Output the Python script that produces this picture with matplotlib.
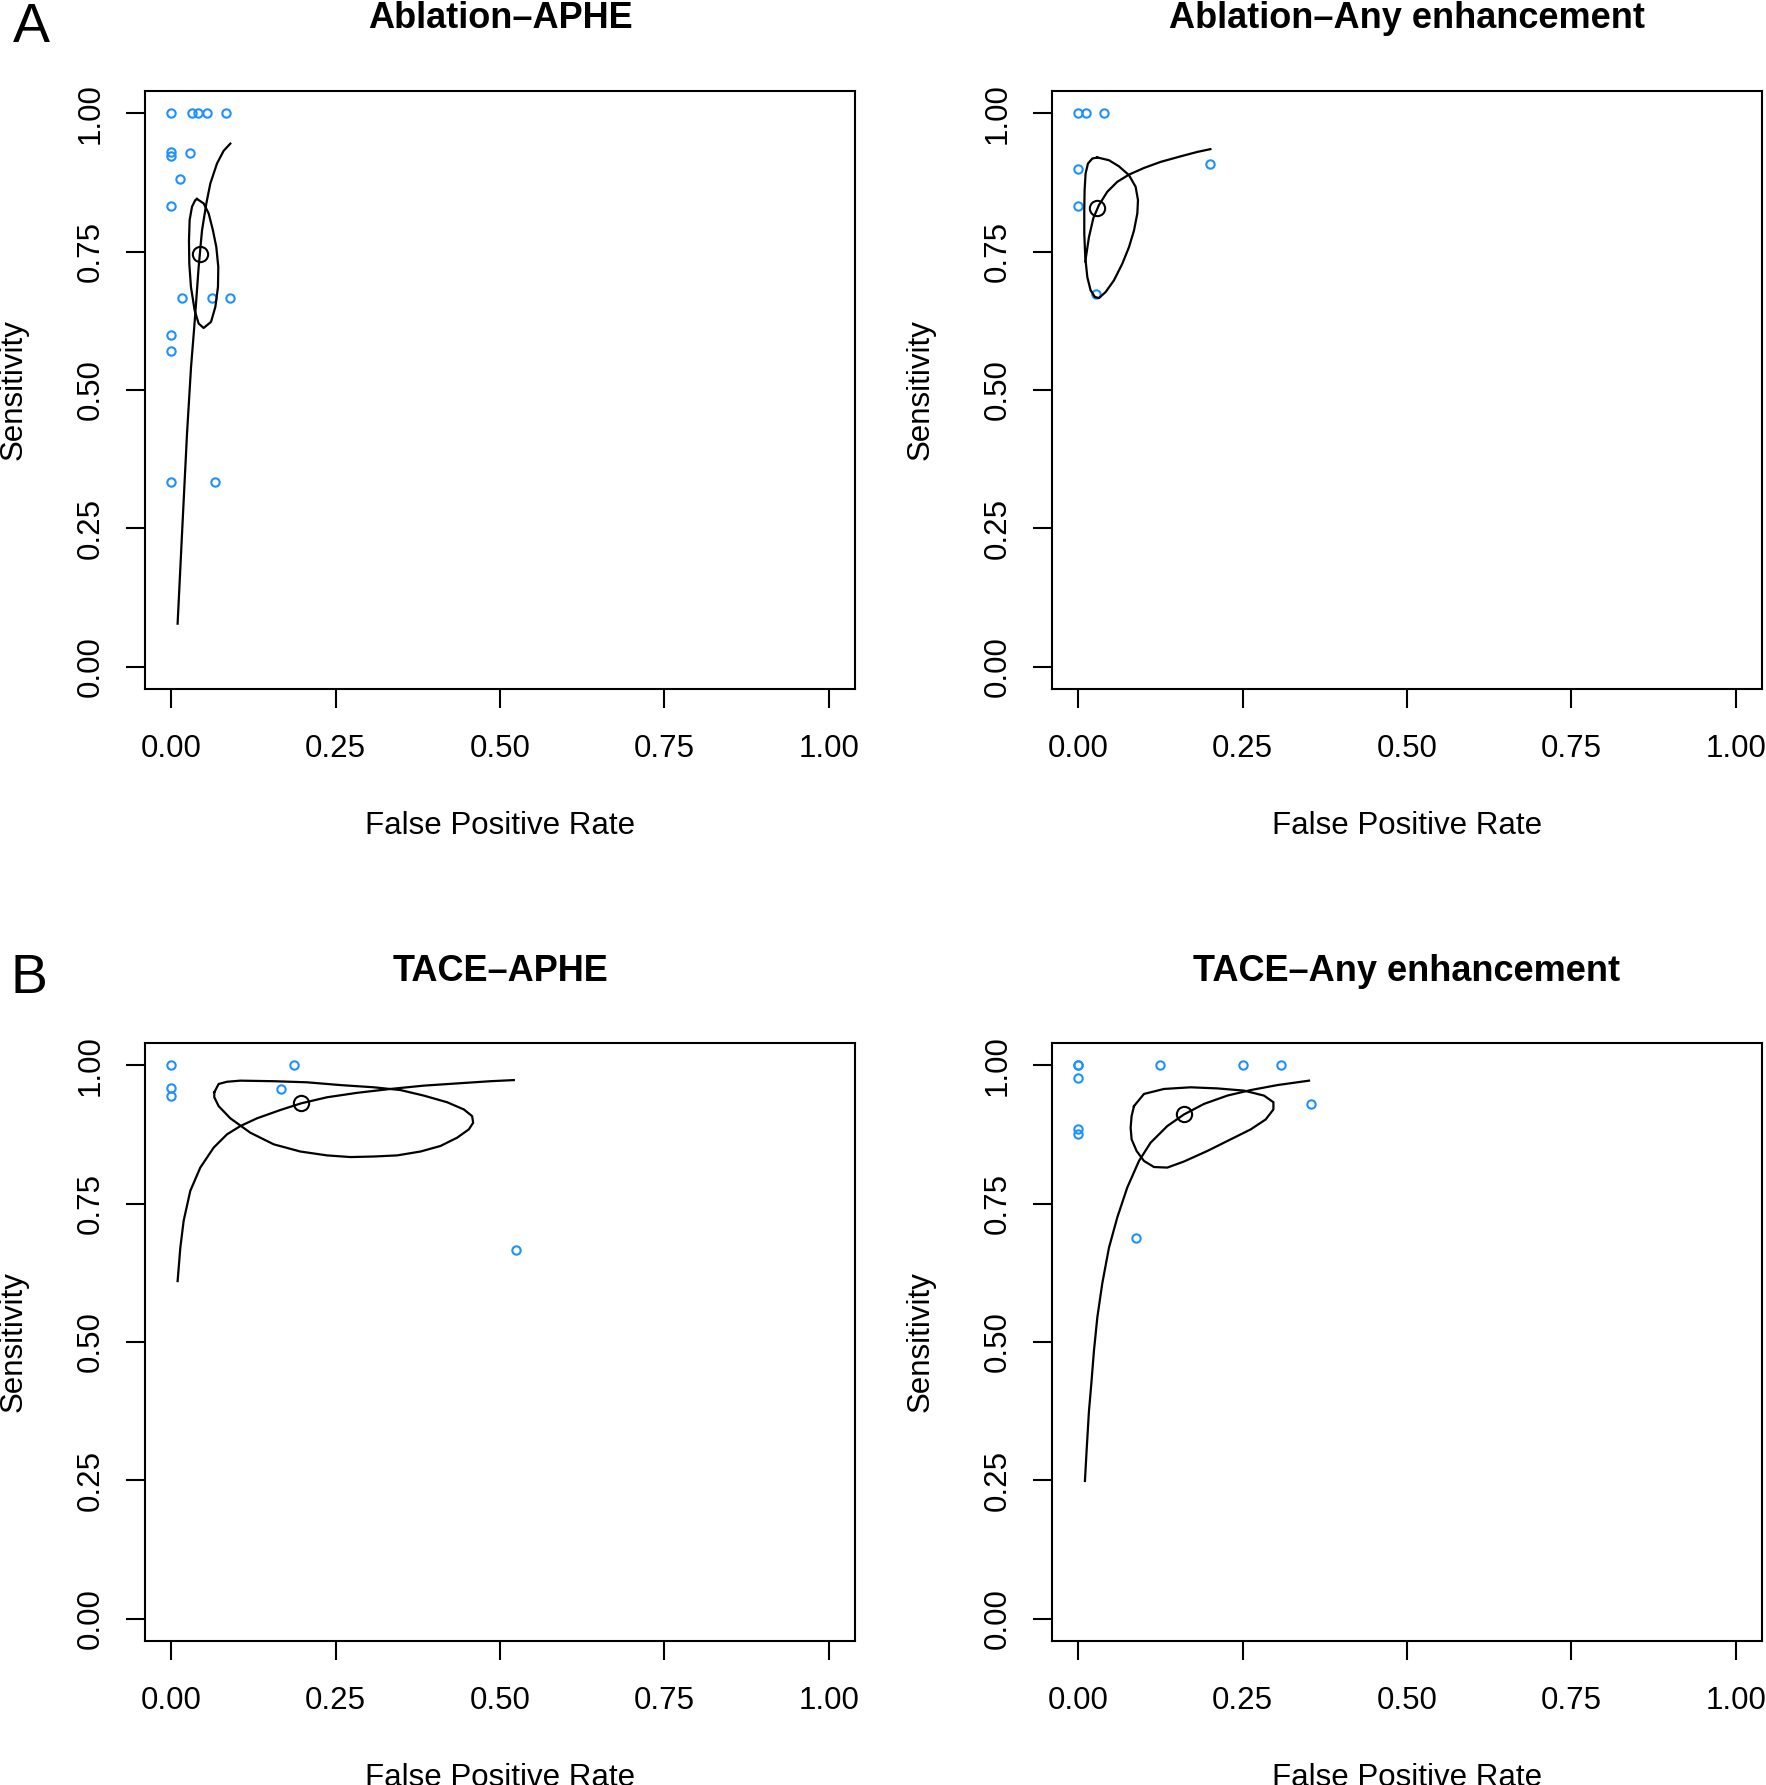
import matplotlib
matplotlib.use("Agg")
import matplotlib.pyplot as plt

plt.rcParams["font.family"] = ["Liberation Sans", "DejaVu Sans"]

# ── Données ───────────────────────────────────────────────────────────────────
TITLES = ["Ablation–APHE", "Ablation–Any enhancement",
          "TACE–APHE", "TACE–Any enhancement"]
TICKS = [0.00, 0.25, 0.50, 0.75, 1.00]
TICK_LABELS = ["0.00", "0.25", "0.50", "0.75", "1.00"]

# études (FPR, sensibilité)
abl_aphe_fpr = [0.0, 0.031, 0.041, 0.055, 0.083, 0.0, 0.0, 0.029, 0.013, 0.0,
                0.017, 0.062, 0.090, 0.0, 0.0, 0.0, 0.066]
abl_aphe_sens = [1.0, 1.0, 1.0, 1.0, 1.0, 0.923, 0.929, 0.928, 0.881, 0.833,
                 0.667, 0.667, 0.667, 0.600, 0.571, 0.333, 0.333]

abl_any_fpr = [0.0, 0.011, 0.039, 0.0, 0.0, 0.027, 0.201]
abl_any_sens = [1.0, 1.0, 1.0, 0.900, 0.833, 0.674, 0.909]

tace_aphe_fpr = [0.0, 0.0, 0.0, 0.187, 0.167, 0.524]
tace_aphe_sens = [1.0, 0.958, 0.944, 1.0, 0.957, 0.667]

tace_any_fpr = [0.0, 0.0, 0.0, 0.0, 0.0, 0.125, 0.251, 0.308, 0.354, 0.088]
tace_any_sens = [1.0, 1.0, 0.976, 0.884, 0.875, 1.0, 1.0, 1.0, 0.929, 0.688]

# point résumé (FPR, sensibilité)
summary_fpr = [0.044, 0.029, 0.197, 0.161]
summary_sens = [0.746, 0.828, 0.931, 0.911]

# courbes SROC (sommets lus)
sroc_abl_aphe_fpr = [0.0096, 0.0163, 0.0239, 0.030, 0.0340, 0.0365, 0.0416,
                     0.0467, 0.0533, 0.0594, 0.0695, 0.0796, 0.0898]
sroc_abl_aphe_sens = [0.078, 0.240, 0.421, 0.541, 0.600, 0.638, 0.722,
                      0.788, 0.837, 0.873, 0.909, 0.932, 0.945]

sroc_abl_any_fpr = [0.0106, 0.0162, 0.0228, 0.0314, 0.0441, 0.0593, 0.0771,
                    0.0999, 0.1253, 0.1557, 0.1811, 0.2009]
sroc_abl_any_sens = [0.732, 0.776, 0.810, 0.834, 0.858, 0.876, 0.889,
                     0.901, 0.912, 0.922, 0.930, 0.935]

sroc_tace_aphe_fpr = [0.0096, 0.0137, 0.0188, 0.0289, 0.0441, 0.0644, 0.0847,
                      0.1050, 0.1304, 0.1659, 0.1974, 0.2369, 0.2826, 0.3333,
                      0.3840, 0.4348, 0.4855, 0.5210]
sroc_tace_aphe_sens = [0.610, 0.670, 0.719, 0.773, 0.815, 0.851, 0.875,
                       0.890, 0.904, 0.919, 0.931, 0.942, 0.950, 0.957,
                       0.963, 0.967, 0.971, 0.973]

sroc_tace_any_fpr = [0.0101, 0.0126, 0.0162, 0.0197, 0.0238, 0.0289, 0.0365,
                     0.0466, 0.0593, 0.0745, 0.0923, 0.1100, 0.1354, 0.1608,
                     0.1912, 0.2267, 0.2623, 0.3028, 0.3510]
sroc_tace_any_sens = [0.249, 0.303, 0.375, 0.423, 0.484, 0.544, 0.606,
                      0.670, 0.725, 0.779, 0.827, 0.860, 0.890, 0.911,
                      0.930, 0.945, 0.955, 0.964, 0.972]

# régions de confiance (contours lus)
conf_abl_aphe_fpr = [0.0391, 0.0492, 0.0568, 0.0634, 0.0685, 0.0715, 0.0710,
                     0.0670, 0.0604, 0.0492, 0.0416, 0.0355, 0.0299, 0.0274,
                     0.0269, 0.0279, 0.0315, 0.0365, 0.0391]
conf_abl_aphe_sens = [0.845, 0.837, 0.819, 0.788, 0.758, 0.722, 0.686,
                      0.650, 0.623, 0.612, 0.620, 0.644, 0.686, 0.728,
                      0.770, 0.807, 0.831, 0.843, 0.845]

conf_abl_any_fpr = [0.0289, 0.0466, 0.0618, 0.0771, 0.0872, 0.0908, 0.0898,
                    0.0847, 0.0771, 0.0669, 0.0542, 0.0416, 0.0314, 0.0253,
                    0.0187, 0.0137, 0.0106, 0.0091, 0.0091, 0.0096, 0.0111,
                    0.0147, 0.0213, 0.0289]
conf_abl_any_sens = [0.920, 0.915, 0.904, 0.888, 0.867, 0.843, 0.819,
                     0.788, 0.758, 0.728, 0.698, 0.677, 0.666, 0.668,
                     0.680, 0.704, 0.740, 0.782, 0.825, 0.861, 0.891,
                     0.909, 0.918, 0.920]

conf_tace_aphe_fpr = [0.0654, 0.0720, 0.0847, 0.1050, 0.1558, 0.2065, 0.2572,
                      0.3080, 0.3486, 0.3841, 0.4196, 0.4450, 0.4576, 0.4592,
                      0.4526, 0.4348, 0.4094, 0.3790, 0.3435, 0.3080, 0.2725,
                      0.2369, 0.1963, 0.1558, 0.1202, 0.0898, 0.0720, 0.0654,
                      0.0654]
conf_tace_aphe_sens = [0.951, 0.966, 0.970, 0.972, 0.971, 0.969, 0.964,
                       0.960, 0.955, 0.945, 0.933, 0.920, 0.908, 0.896,
                       0.884, 0.869, 0.854, 0.844, 0.837, 0.835, 0.834,
                       0.837, 0.844, 0.857, 0.878, 0.904, 0.926, 0.942,
                       0.951]

conf_tace_any_fpr = [0.0847, 0.0999, 0.1303, 0.1709, 0.2115, 0.2521, 0.2825,
                     0.2968, 0.2968, 0.2851, 0.2623, 0.2318, 0.1963, 0.1608,
                     0.1354, 0.1151, 0.0999, 0.0887, 0.0811, 0.0796, 0.0811,
                     0.0847]
conf_tace_any_sens = [0.926, 0.948, 0.957, 0.960, 0.958, 0.954, 0.945,
                      0.933, 0.920, 0.902, 0.884, 0.866, 0.845, 0.826,
                      0.815, 0.816, 0.827, 0.845, 0.866, 0.887, 0.908,
                      0.926]

STUDIES = [(abl_aphe_fpr, abl_aphe_sens), (abl_any_fpr, abl_any_sens),
           (tace_aphe_fpr, tace_aphe_sens), (tace_any_fpr, tace_any_sens)]
SROC = [(sroc_abl_aphe_fpr, sroc_abl_aphe_sens), (sroc_abl_any_fpr, sroc_abl_any_sens),
        (sroc_tace_aphe_fpr, sroc_tace_aphe_sens), (sroc_tace_any_fpr, sroc_tace_any_sens)]
CONF = [(conf_abl_aphe_fpr, conf_abl_aphe_sens), (conf_abl_any_fpr, conf_abl_any_sens),
        (conf_tace_aphe_fpr, conf_tace_aphe_sens), (conf_tace_any_fpr, conf_tace_any_sens)]

# ── Figure ────────────────────────────────────────────────────────────────────
W, H = 1766, 1785
fig = plt.figure(figsize=(W / 100, H / 100), dpi=100)

BOX_W, BOX_H = 710, 598
lefts = [145, 1052]
tops = [91, 1043]
positions = [(l, t) for t in tops for l in lefts]

for i, (l, t) in enumerate(positions):
    ax = fig.add_axes([l / W, (H - t - BOX_H) / H, BOX_W / W, BOX_H / H])
    ax.set_xlim(-0.04, 1.04)
    ax.set_ylim(-0.04, 1.04)
    for s in ax.spines.values():
        s.set_linewidth(1.5)
    ax.set_xticks(TICKS)
    ax.set_xticklabels(TICK_LABELS)
    ax.set_yticks(TICKS)
    ax.set_yticklabels(TICK_LABELS, rotation=90, va="center")
    ax.tick_params(length=13.5, width=1.5, labelsize=22.5, direction="out")
    ax.tick_params(axis="x", pad=19)
    ax.tick_params(axis="y", pad=15)

    fx, sy = STUDIES[i]
    ax.plot(fx, sy, "o", ms=6, mfc="none", mec="#1E90FF", mew=1.5, clip_on=False)
    cx, cy = SROC[i]
    ax.plot(cx, cy, color="black", lw=1.6)
    ex, ey = CONF[i]
    ax.plot(ex, ey, color="black", lw=1.6)
    ax.plot(summary_fpr[i], summary_sens[i], "o", ms=11, mfc="none",
            mec="black", mew=1.5)

    ax.text(0.5, 1 + 72 / BOX_H, TITLES[i], transform=ax.transAxes,
            ha="center", va="center", fontsize=26, fontweight="bold")
    ax.text(0.5, -137 / BOX_H, "False Positive Rate", transform=ax.transAxes,
            ha="center", va="center", fontsize=22.5)
    ax.text(-131 / BOX_W, 0.5, "Sensitivity", transform=ax.transAxes,
            rotation=90, ha="center", va="center", fontsize=22.5)

fig.text(31 / W, 1 - 28 / H, "A", ha="center", va="center", fontsize=40)
fig.text(29 / W, 1 - 979 / H, "B", ha="center", va="center", fontsize=40)

fig.savefig("out.png", dpi=100)
